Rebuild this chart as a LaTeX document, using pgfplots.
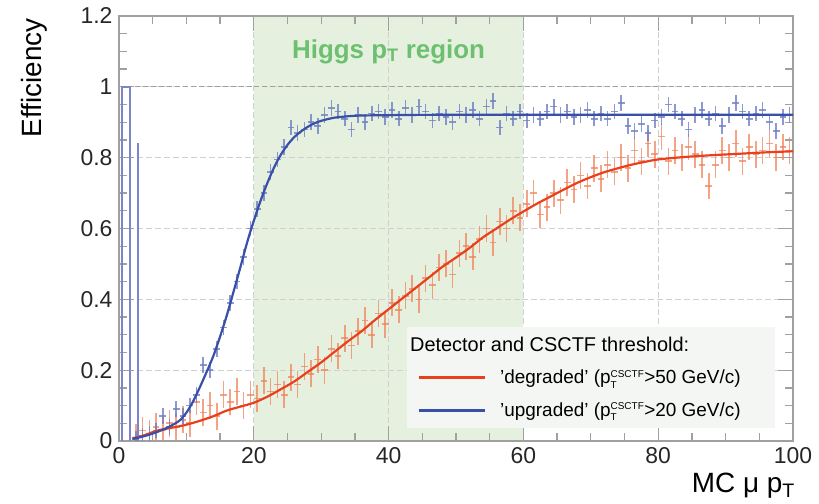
\documentclass[border=0pt]{standalone}
\usepackage{fontspec}
\setmainfont{Liberation Sans}
\usepackage{pgfplots}
\pgfplotsset{compat=1.18}
\definecolor{axisgray}{HTML}{A0A0A0}
\definecolor{gridgray}{HTML}{D0D0D0}
\definecolor{higgsfill}{HTML}{E5F1DE}
\definecolor{higgstext}{HTML}{6CC070}
\definecolor{bluefit}{HTML}{3A50A8}
\definecolor{bluepts}{HTML}{7080C4}
\definecolor{redfit}{HTML}{E8401C}
\definecolor{redpts}{HTML}{F0845E}
\definecolor{histblue}{HTML}{7C86C6}
\definecolor{legfill}{HTML}{F4F6F4}
\begin{document}
\begin{tikzpicture}
\begin{axis}[
  name=ax,
  set layers,
  scale only axis, width=674bp, height=425bp,
  xmin=0, xmax=100, ymin=0, ymax=1.2,
  xtick={0,20,40,60,80,100}, ytick={0,0.2,0.4,0.6,0.8,1,1.2},
  minor x tick num=3, minor y tick num=3,
  tick align=inside,
  major tick length=15bp, minor tick length=8bp,
  axis line style={axisgray, line width=1.5pt},
  every tick/.style={axisgray, line width=1.3pt},
  grid=major,
  major grid style={gridgray, dash pattern=on 6pt off 3pt, line width=1.2pt},
  tick label style={font=\fontsize{23}{25}\selectfont, text=black!85},
  xticklabel style={yshift=-3bp},
  yticklabel style={xshift=-3bp},
  /pgf/number format/assume math mode=true,
  ylabel={Efficiency},
  ylabel style={at={(axis description cs:-0.126,0.995)}, anchor=east, inner sep=0pt, font=\fontsize{28}{30}\selectfont},
  xlabel={MC μ p\textsubscript{T}},
  xlabel style={at={(axis description cs:1.003,-0.074)}, anchor=north east, inner sep=0pt, font=\fontsize{28}{30}\selectfont},
  legend style={at={(rel axis cs:0.973,0.031)}, anchor=south east, fill=legfill, draw=none,
    font=\fontsize{19}{22}\selectfont, row sep=13bp, inner xsep=10bp, inner ysep=8bp,
    /tikz/every odd column/.append style={column sep=12bp}},
  legend cell align=left,
  legend image code/.code={\draw[#1, line width=3pt] (0bp,0bp) -- (66bp,0bp);},
]
% Higgs pT region
\addplot[forget plot, draw=none, fill=higgsfill, on layer=axis background] coordinates {(20,1.2) (60,1.2)} \closedcycle;
\node[text=higgstext, font=\fontsize{26}{28}\selectfont\bfseries] at (axis cs:40,1.1) {Higgs p\textsubscript{T} region};
% line at efficiency 1
\addplot[forget plot, axisgray, dash pattern=on 5pt off 3pt, line width=1.3pt] coordinates {(0,1) (100,1)};
% histogram outline near zero
\addplot[forget plot, histblue, line width=2pt, mark=none] coordinates {(0.4,0) (0.4,1) (1.6,1) (1.6,0)};
\addplot[forget plot, histblue, line width=2pt, mark=none] coordinates {(2.75,0) (2.75,0.84)};
% degraded data points
\addplot[forget plot, draw=none, mark=none,
  error bars/.cd, x dir=both, x fixed=0.5, y dir=both, y fixed=0.038, error mark=none,
  error bar style={draw=redpts, line width=1.6pt, opacity=0.75}] coordinates {
(2.5,0.01)(3.5,0.03)(4.5,0.02)(5.5,0.04)(6.5,0.03)(7.5,0.05)(8.5,0.04)(9.5,0.06)(10.5,0.05)
(11.5,0.11)(12.5,0.08)(13.5,0.1)(14.5,0.07)(15.5,0.13)(16.5,0.11)(17.5,0.14)(18.5,0.1)(19.5,0.13)
(20.5,0.12)(21.5,0.17)(22.5,0.14)(23.5,0.16)(24.5,0.13)(25.5,0.18)(26.5,0.16)(27.5,0.21)(28.5,0.19)
(29.5,0.23)(30.5,0.2)(31.5,0.26)(32.5,0.24)(33.5,0.29)(34.5,0.27)(35.5,0.31)(36.5,0.34)(37.5,0.3)
(38.5,0.36)(39.5,0.33)(40.5,0.39)(41.5,0.37)(42.5,0.41)(43.5,0.43)(44.5,0.4)(45.5,0.46)(46.5,0.44)
(47.5,0.49)(48.5,0.5)(49.5,0.47)(50.5,0.53)(51.5,0.55)(52.5,0.52)(53.5,0.57)(54.5,0.6)(55.5,0.56)
(56.5,0.62)(57.5,0.6)(58.5,0.65)(59.5,0.63)(60.5,0.67)(61.5,0.7)(62.5,0.64)(63.5,0.66)(64.5,0.7)
(65.5,0.68)(66.5,0.73)(67.5,0.71)(68.5,0.75)(69.5,0.72)(70.5,0.77)(71.5,0.74)(72.5,0.78)(73.5,0.76)
(74.5,0.8)(75.5,0.77)(76.5,0.82)(77.5,0.79)(78.5,0.84)(79.5,0.81)(80.5,0.86)(81.5,0.79)(82.5,0.82)
(83.5,0.8)(84.5,0.83)(85.5,0.81)(86.5,0.78)(87.5,0.72)(88.5,0.78)(89.5,0.82)(90.5,0.8)(91.5,0.84)
(92.5,0.79)(93.5,0.83)(94.5,0.81)(95.5,0.82)(96.5,0.84)(97.5,0.8)(98.5,0.83)(99.5,0.82)};
% upgraded data points
\addplot[forget plot, draw=none, mark=none,
  error bars/.cd, x dir=both, x fixed=0.5, y dir=both, y fixed=0.022, error mark=none,
  error bar style={draw=bluepts, line width=1.6pt, opacity=0.8}] coordinates {
(2.5,0.005)(3.5,0.015)(4.5,0.02)(5.5,0.03)(6.5,0.07)(7.5,0.04)(8.5,0.09)(9.5,0.07)(10.5,0.1)
(11.5,0.13)(12.5,0.215)(13.5,0.2)(14.5,0.26)(15.5,0.32)(16.5,0.39)(17.5,0.45)(18.5,0.52)(19.5,0.6)
(20.5,0.655)(21.5,0.7)(22.5,0.76)(23.5,0.795)(24.5,0.83)(25.5,0.885)(26.5,0.87)(27.5,0.88)(28.5,0.9)
(29.5,0.89)(30.5,0.92)(31.5,0.94)(32.5,0.93)(33.5,0.91)(34.5,0.88)(35.5,0.92)(36.5,0.9)(37.5,0.925)
(38.5,0.93)(39.5,0.915)(40.5,0.935)(41.5,0.91)(42.5,0.94)(43.5,0.92)(44.5,0.945)(45.5,0.93)(46.5,0.905)
(47.5,0.925)(48.5,0.915)(49.5,0.9)(50.5,0.93)(51.5,0.92)(52.5,0.935)(53.5,0.91)(54.5,0.945)(55.5,0.96)
(56.5,0.885)(57.5,0.925)(58.5,0.91)(59.5,0.93)(60.5,0.905)(61.5,0.92)(62.5,0.91)(63.5,0.93)(64.5,0.945)
(65.5,0.92)(66.5,0.93)(67.5,0.915)(68.5,0.92)(69.5,0.935)(70.5,0.91)(71.5,0.925)(72.5,0.91)(73.5,0.93)
(74.5,0.955)(75.5,0.89)(76.5,0.875)(77.5,0.895)(78.5,0.87)(79.5,0.905)(80.5,0.915)(81.5,0.95)(82.5,0.93)
(83.5,0.91)(84.5,0.88)(85.5,0.92)(86.5,0.935)(87.5,0.91)(88.5,0.925)(89.5,0.89)(90.5,0.92)(91.5,0.955)
(92.5,0.93)(93.5,0.91)(94.5,0.925)(95.5,0.935)(96.5,0.9)(97.5,0.875)(98.5,0.915)(99.5,0.92)};
% legend title
\addlegendimage{empty legend}
\addlegendentry{\hspace*{-90bp}\fontsize{20}{22}\selectfont Detector and CSCTF threshold:}
% fits
\addplot[redfit, line width=2.2pt, smooth, mark=none] coordinates {
(2,0.008)(3,0.012)(4,0.018)(5,0.025)(6,0.031)(8,0.038)(10,0.046)(12,0.057)(14,0.07)(16,0.086)
(18,0.097)(20,0.108)(22,0.125)(24,0.146)(26,0.168)(28,0.195)(30,0.222)(32,0.252)(34,0.282)
(36,0.31)(38,0.342)(40,0.372)(42,0.402)(44,0.432)(46,0.462)(48,0.492)(50,0.518)(52,0.545)
(54,0.575)(56,0.6)(58,0.625)(60,0.648)(62,0.67)(64,0.69)(66,0.71)(68,0.729)(70,0.745)(72,0.759)
(74,0.77)(76,0.78)(78,0.788)(80,0.795)(84,0.802)(88,0.807)(92,0.811)(96,0.815)(100,0.818)};
\addlegendentry{'degraded' (p$_{\mbox{\fontsize{10}{10}\selectfont T}}^{\mbox{\fontsize{10}{10}\selectfont CSCTF}}$>50 GeV/c)\hspace*{22bp}}
\addplot[bluefit, line width=2.2pt, smooth, mark=none] coordinates {
(2,0.006)(3,0.01)(4,0.015)(5,0.021)(6,0.028)(7,0.036)(8,0.046)(9,0.058)(10,0.08)(11,0.112)
(12,0.152)(13,0.195)(14,0.24)(15,0.295)(16,0.355)(17,0.422)(18,0.49)(19,0.56)(20,0.622)(21,0.678)
(22,0.728)(23,0.772)(24,0.808)(25,0.836)(26,0.858)(27,0.874)(28,0.887)(29,0.897)(30,0.904)
(31,0.909)(32,0.913)(34,0.917)(36,0.919)(40,0.92)(50,0.921)(100,0.921)};
\addlegendentry{'upgraded' (p$_{\mbox{\fontsize{10}{10}\selectfont T}}^{\mbox{\fontsize{10}{10}\selectfont CSCTF}}$>20 GeV/c)}
\end{axis}
\pgfresetboundingbox
\useasboundingbox ([xshift=-119bp,yshift=-63bp]ax.south west) rectangle ([xshift=26bp,yshift=16bp]ax.north east);
\end{tikzpicture}
\end{document}
